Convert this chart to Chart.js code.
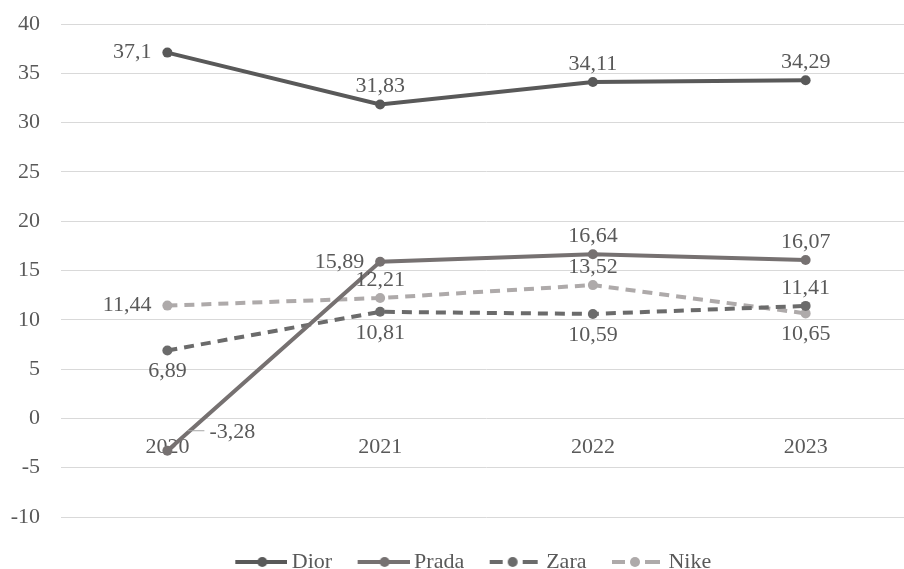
<!DOCTYPE html>
<html>
<head>
<meta charset="utf-8">
<script src="https://cdn.jsdelivr.net/npm/chart.js@4/dist/chart.umd.min.js"></script>
<style>
  html, body { margin: 0; padding: 0; background: #fff; overflow: hidden; }
  #wrap { width: 917px; height: 569px; }
</style>
</head>
<body>
<div id="wrap"><canvas id="chart"></canvas></div>
<script>
const years = ['2020', '2021', '2022', '2023'];
const dior = [37.1, 31.83, 34.11, 34.29];
const prada = [-3.28, 15.89, 16.64, 16.07];
const zara = [6.89, 10.81, 10.59, 11.41];
const nike = [11.44, 12.21, 13.52, 10.65];

// where each value label sits next to its point
const diorPos = ['left', 'above', 'above', 'above'];
const pradaPos = ['callout', 'left', 'above', 'above'];
const zaraPos = ['below', 'below', 'below', 'above'];
const nikePos = ['left', 'above', 'above', 'below'];
const labelPos = [diorPos, pradaPos, zaraPos, nikePos];

const FONT = '"Liberation Serif", "Times New Roman", serif';
const TEXT = '#595959';

// legend marker: line with a dot, drawn in the right part of a 62px canvas
function legendIcon(color, dashed) {
  const c = document.createElement('canvas');
  c.width = 62; c.height = 14;
  const g = c.getContext('2d');
  g.strokeStyle = color;
  g.fillStyle = color;
  g.lineWidth = 4;
  g.beginPath();
  if (dashed) {
    g.moveTo(10, 7); g.lineTo(23, 7);
    g.moveTo(43, 7); g.lineTo(58, 7);
  } else {
    g.moveTo(10, 7); g.lineTo(62, 7);
  }
  g.stroke();
  g.beginPath();
  g.arc(dashed ? 33 : 37, 7, 5, 0, Math.PI * 2);
  g.fill();
  return c;
}

const pointLabels = {
  id: 'pointLabels',
  afterDatasetsDraw(chart) {
    const ctx = chart.ctx;
    ctx.save();
    ctx.font = '22px ' + FONT;
    ctx.fillStyle = TEXT;
    chart.data.datasets.forEach((ds, i) => {
      const meta = chart.getDatasetMeta(i);
      meta.data.forEach((pt, j) => {
        const txt = String(ds.data[j]).replace('.', ',');
        const pos = labelPos[i][j];
        let x = pt.x, y = pt.y;
        ctx.textAlign = 'center';
        ctx.textBaseline = 'middle';
        if (pos === 'above') y -= 18;
        else if (pos === 'below') y += 21;
        else if (pos === 'left') { x -= 16; ctx.textAlign = 'right'; }
        else if (pos === 'callout') {
          ctx.strokeStyle = '#a6a6a6';
          ctx.lineWidth = 1;
          ctx.beginPath();
          ctx.moveTo(x + 20, y - 20);
          ctx.lineTo(x + 37, y - 20);
          ctx.stroke();
          x += 42; y -= 19;
          ctx.textAlign = 'left';
        }
        ctx.fillText(txt, x, y);
      });
    });
    ctx.restore();
  }
};

// nudge the legend to where the original puts it
const legendShift = {
  id: 'legendShift',
  afterLayout(chart) {
    const lg = chart.legend;
    lg.left += 13; lg.right += 13;
    lg.top += 12; lg.bottom += 12;
  }
};

const series = [
  { label: 'Dior', data: dior, color: '#595959', dashed: false },
  { label: 'Prada', data: prada, color: '#767171', dashed: false },
  { label: 'Zara', data: zara, color: '#6b6b6b', dashed: true },
  { label: 'Nike', data: nike, color: '#aeaaaa', dashed: true }
];

new Chart(document.getElementById('chart'), {
  type: 'line',
  data: {
    labels: years,
    datasets: series.map(s => ({
      label: s.label,
      data: s.data,
      borderColor: s.color,
      backgroundColor: s.color,
      borderWidth: 4,
      borderDash: s.dashed ? [10, 7] : [],
      pointRadius: 5,
      pointHoverRadius: 5,
      pointBorderWidth: 0,
      tension: 0,
      fill: false
    }))
  },
  options: {
    responsive: true,
    maintainAspectRatio: false,
    animation: false,
    layout: { padding: { left: 0, right: 0, top: 24, bottom: -2 } },
    plugins: {
      tooltip: { enabled: false },
      legend: {
        position: 'bottom',
        labels: {
          usePointStyle: true,
          pointStyleWidth: 49,
          padding: 22,
          color: TEXT,
          font: { family: FONT, size: 22 },
          generateLabels(chart) {
            return series.map((s, i) => ({
              text: s.label,
              fontColor: TEXT,
              pointStyle: legendIcon(s.color, s.dashed),
              datasetIndex: i,
              lineWidth: 0,
              strokeStyle: 'transparent',
              fillStyle: 'transparent'
            }));
          }
        }
      }
    },
    scales: {
      x: {
        type: 'category',
        offset: true,
        position: { y: 0 },
        grid: { display: false, drawTicks: false },
        border: { display: false },
        ticks: { color: TEXT, font: { family: FONT, size: 22 }, padding: 16 },
        afterFit(scale) { scale.paddingTop = 0; scale.paddingBottom = 0; }
      },
      y: {
        min: -10,
        max: 40,
        ticks: { stepSize: 5, color: TEXT, font: { family: FONT, size: 22 }, padding: 21 },
        grid: { color: '#d9d9d9', lineWidth: 1, drawTicks: false },
        border: { display: false },
        afterFit(scale) { scale.width = 61; scale.paddingTop = 0; scale.paddingBottom = 0; }
      }
    }
  },
  plugins: [pointLabels, legendShift]
});
</script>
</body>
</html>
